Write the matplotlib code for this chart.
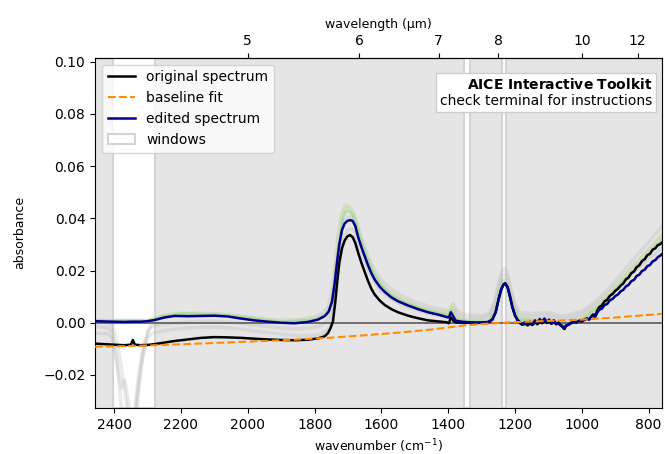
import numpy as np
import matplotlib
matplotlib.use("Agg")
import matplotlib.pyplot as plt

# spectra as (wavenumber cm-1, absorbance) pairs
original = [
    (2457, -0.0080), (2430, -0.0082), (2400, -0.0084), (2370, -0.0086), (2350, -0.0084),
    (2344, -0.0066), (2338, -0.0084), (2320, -0.0086), (2300, -0.0085), (2280, -0.0082),
    (2250, -0.0076), (2220, -0.0070), (2180, -0.0064), (2140, -0.0058), (2100, -0.0055),
    (2060, -0.0056), (2020, -0.0058), (1980, -0.0061), (1940, -0.0064), (1900, -0.0066),
    (1860, -0.0067), (1820, -0.0065), (1790, -0.0060), (1770, -0.0052), (1760, -0.0040),
    (1752, -0.0020), (1745, 0.0005), (1738, 0.0080), (1732, 0.0160), (1726, 0.0230),
    (1718, 0.0285), (1710, 0.0315), (1702, 0.0330), (1694, 0.0336), (1686, 0.0328),
    (1678, 0.0305), (1670, 0.0270), (1660, 0.0230), (1650, 0.0195), (1640, 0.0160),
    (1630, 0.0130), (1620, 0.0108), (1605, 0.0085), (1590, 0.0068), (1570, 0.0052),
    (1550, 0.0040), (1520, 0.0027), (1490, 0.0017), (1460, 0.0009), (1430, 0.0005),
    (1405, 0.0002), (1398, -0.0002), (1392, 0.0020), (1385, 0.0008), (1378, 0.0001),
    (1360, 0.0000), (1340, 0.0000), (1320, -0.0001), (1300, 0.0000), (1280, 0.0002),
    (1268, 0.0012), (1258, 0.0040), (1250, 0.0085), (1242, 0.0125), (1235, 0.0146),
    (1229, 0.0151), (1222, 0.0135), (1215, 0.0100), (1208, 0.0060), (1200, 0.0028),
    (1192, 0.0008), (1185, -0.0002), (1178, -0.0008), (1170, -0.0004), (1162, -0.0010),
    (1155, -0.0003), (1148, -0.0009), (1140, 0.0002), (1133, -0.0006), (1126, 0.0004),
    (1119, -0.0002), (1112, 0.0006), (1105, -0.0001), (1098, 0.0004), (1091, -0.0004),
    (1084, 0.0003), (1077, -0.0006), (1070, -0.0002), (1064, -0.0010), (1058, -0.0016),
    (1052, -0.0024), (1047, -0.0012), (1040, -0.0008), (1032, -0.0002), (1024, 0.0003),
    (1016, 0.0001), (1008, 0.0007), (1000, 0.0005), (992, 0.0011), (985, 0.0016),
    (978, 0.0013), (972, 0.0024), (966, 0.0032), (960, 0.0028), (954, 0.0046),
    (948, 0.0060), (940, 0.0066), (932, 0.0082), (924, 0.0088), (916, 0.0103),
    (908, 0.0110), (900, 0.0122), (892, 0.0130), (884, 0.0142), (876, 0.0150),
    (868, 0.0166), (860, 0.0173), (852, 0.0190), (844, 0.0196), (836, 0.0213),
    (828, 0.0220), (820, 0.0236), (812, 0.0243), (804, 0.0259), (796, 0.0264),
    (788, 0.0280), (780, 0.0285), (772, 0.0298), (766, 0.0300), (761, 0.0306),
]

edited = [
    (2457, 0.0006), (2430, 0.0005), (2400, 0.0004), (2370, 0.0003), (2350, 0.0004),
    (2320, 0.0004), (2300, 0.0006), (2280, 0.0010), (2250, 0.0020), (2220, 0.0026),
    (2180, 0.0025), (2140, 0.0026), (2100, 0.0027), (2060, 0.0024), (2020, 0.0016),
    (1980, 0.0009), (1940, 0.0004), (1900, 0.0000), (1860, -0.0002), (1820, 0.0003),
    (1790, 0.0012), (1770, 0.0025), (1758, 0.0042), (1748, 0.0080), (1740, 0.0150),
    (1733, 0.0230), (1726, 0.0300), (1718, 0.0355), (1710, 0.0380), (1702, 0.0390),
    (1694, 0.0393), (1686, 0.0390), (1678, 0.0370), (1670, 0.0330), (1660, 0.0290),
    (1650, 0.0255), (1640, 0.0220), (1630, 0.0190), (1620, 0.0165), (1605, 0.0138),
    (1590, 0.0118), (1570, 0.0097), (1550, 0.0082), (1520, 0.0066), (1490, 0.0052),
    (1460, 0.0040), (1430, 0.0031), (1405, 0.0022), (1398, 0.0020), (1392, 0.0040),
    (1385, 0.0025), (1378, 0.0008), (1360, 0.0004), (1340, 0.0002), (1320, 0.0001),
    (1300, 0.0001), (1280, 0.0003), (1268, 0.0012), (1258, 0.0040), (1250, 0.0085),
    (1242, 0.0125), (1235, 0.0146), (1229, 0.0150), (1222, 0.0135), (1215, 0.0100),
    (1208, 0.0060), (1200, 0.0028), (1192, 0.0010), (1185, 0.0002), (1178, -0.0004),
    (1170, 0.0002), (1162, -0.0006), (1155, 0.0004), (1148, -0.0005), (1140, 0.0009),
    (1133, -0.0002), (1126, 0.0014), (1119, 0.0003), (1112, 0.0016), (1105, 0.0002),
    (1098, 0.0012), (1091, -0.0003), (1084, 0.0010), (1077, -0.0004), (1070, 0.0001),
    (1064, -0.0008), (1058, -0.0013), (1052, -0.0022), (1047, -0.0010), (1040, -0.0006),
    (1032, 0.0000), (1024, 0.0004), (1016, 0.0002), (1008, 0.0008), (1000, 0.0006),
    (992, 0.0012), (985, 0.0016), (978, 0.0012), (972, 0.0022), (966, 0.0027),
    (960, 0.0022), (954, 0.0038), (948, 0.0050), (940, 0.0054), (932, 0.0068),
    (924, 0.0072), (916, 0.0086), (908, 0.0091), (900, 0.0102), (892, 0.0108),
    (884, 0.0120), (876, 0.0126), (868, 0.0139), (860, 0.0145), (852, 0.0159),
    (844, 0.0164), (836, 0.0179), (828, 0.0184), (820, 0.0198), (812, 0.0203),
    (804, 0.0217), (796, 0.0221), (788, 0.0235), (780, 0.0240), (772, 0.0252),
    (766, 0.0256), (761, 0.0262),
]

baseline = [
    (2457, -0.0092), (2350, -0.0089), (2250, -0.0085), (2150, -0.0080), (2050, -0.0075),
    (1950, -0.0070), (1850, -0.0064), (1750, -0.0057), (1650, -0.0048), (1550, -0.0038),
    (1450, -0.0026), (1350, -0.0010), (1300, -0.0005), (1250, -0.0001), (1200, 0.0002),
    (1100, 0.0007), (1000, 0.0012), (900, 0.0020), (800, 0.0030), (761, 0.0034),
]

# other edited versions shown faintly behind
alt_high = [
    (2457, 0.0010), (2420, 0.0008), (2405, -0.0010), (2390, -0.0080), (2375, -0.0200),
    (2362, -0.0320), (2352, -0.0420), (2344, -0.0480), (2336, -0.0400), (2325, -0.0240),
    (2312, -0.0110), (2298, -0.0030), (2283, 0.0005), (2250, 0.0025), (2200, 0.0035),
    (2150, 0.0036), (2100, 0.0035), (2050, 0.0030), (2000, 0.0022), (1950, 0.0014),
    (1900, 0.0010), (1850, 0.0012), (1800, 0.0022), (1775, 0.0036), (1760, 0.0060),
    (1750, 0.0110), (1740, 0.0210), (1730, 0.0330), (1720, 0.0410), (1710, 0.0440),
    (1700, 0.0445), (1690, 0.0435), (1680, 0.0410), (1670, 0.0370), (1655, 0.0310),
    (1640, 0.0255), (1620, 0.0200), (1600, 0.0163), (1570, 0.0128), (1540, 0.0103),
    (1500, 0.0080), (1460, 0.0064), (1420, 0.0052), (1395, 0.0046), (1385, 0.0075),
    (1375, 0.0050), (1360, 0.0035), (1340, 0.0030), (1300, 0.0028), (1275, 0.0040),
    (1260, 0.0090), (1248, 0.0160), (1238, 0.0200), (1230, 0.0208), (1222, 0.0185),
    (1212, 0.0130), (1200, 0.0070), (1188, 0.0040), (1150, 0.0035), (1100, 0.0040),
    (1060, 0.0025), (1040, 0.0030), (1000, 0.0045), (960, 0.0080), (920, 0.0130),
    (880, 0.0190), (840, 0.0250), (800, 0.0310), (780, 0.0340), (761, 0.0365),
]

alt_mid = [
    (2457, -0.0015), (2420, -0.0018), (2408, -0.0030), (2398, -0.0090), (2388, -0.0180),
    (2378, -0.0250), (2368, -0.0220), (2358, -0.0300), (2348, -0.0380), (2338, -0.0340),
    (2326, -0.0190), (2312, -0.0080), (2296, -0.0025), (2280, -0.0012), (2250, -0.0005),
    (2200, 0.0000), (2150, 0.0004), (2100, 0.0006), (2050, 0.0002), (2000, -0.0006),
    (1950, -0.0014), (1900, -0.0020), (1850, -0.0024), (1800, -0.0018), (1775, -0.0008),
    (1760, 0.0012), (1750, 0.0050), (1740, 0.0140), (1730, 0.0260), (1720, 0.0350),
    (1710, 0.0390), (1700, 0.0405), (1690, 0.0405), (1680, 0.0385), (1670, 0.0345),
    (1655, 0.0285), (1640, 0.0230), (1620, 0.0178), (1600, 0.0142), (1570, 0.0110),
    (1540, 0.0086), (1500, 0.0066), (1460, 0.0050), (1420, 0.0040), (1395, 0.0034),
    (1385, 0.0060), (1375, 0.0038), (1360, 0.0024), (1340, 0.0020), (1300, 0.0019),
    (1275, 0.0030), (1260, 0.0075), (1248, 0.0140), (1238, 0.0180), (1230, 0.0186),
    (1222, 0.0165), (1212, 0.0112), (1200, 0.0058), (1188, 0.0030), (1150, 0.0024),
    (1100, 0.0030), (1060, 0.0015), (1040, 0.0020), (1000, 0.0035), (960, 0.0068),
    (920, 0.0115), (880, 0.0170), (840, 0.0225), (800, 0.0280), (780, 0.0305), (761, 0.0330),
]

alt_low = [
    (2457, -0.0040), (2420, -0.0042), (2405, -0.0060), (2392, -0.0150), (2380, -0.0300),
    (2370, -0.0420), (2360, -0.0500), (2350, -0.0460), (2340, -0.0380), (2328, -0.0250),
    (2315, -0.0130), (2300, -0.0060), (2285, -0.0040), (2250, -0.0030), (2200, -0.0022),
    (2150, -0.0018), (2100, -0.0016), (2050, -0.0020), (2000, -0.0028), (1950, -0.0036),
    (1900, -0.0044), (1850, -0.0050), (1800, -0.0048), (1775, -0.0040), (1760, -0.0025),
    (1750, 0.0000), (1740, 0.0070), (1730, 0.0180), (1720, 0.0280), (1710, 0.0330),
    (1700, 0.0355), (1690, 0.0360), (1680, 0.0345), (1670, 0.0310), (1655, 0.0255),
    (1640, 0.0205), (1620, 0.0155), (1600, 0.0120), (1570, 0.0090), (1540, 0.0068),
    (1500, 0.0050), (1460, 0.0036), (1420, 0.0026), (1395, 0.0020), (1385, 0.0045),
    (1375, 0.0025), (1360, 0.0012), (1340, 0.0010), (1300, 0.0010), (1275, 0.0020),
    (1260, 0.0060), (1248, 0.0120), (1238, 0.0158), (1230, 0.0163), (1222, 0.0145),
    (1212, 0.0095), (1200, 0.0045), (1188, 0.0018), (1150, 0.0012), (1100, 0.0018),
    (1060, 0.0005), (1040, 0.0010), (1000, 0.0025), (960, 0.0055), (920, 0.0100),
    (880, 0.0150), (840, 0.0200), (800, 0.0245), (780, 0.0265), (761, 0.0285),
]

alt_green = [
    (2457, 0.0008), (2300, 0.0008), (2250, 0.0027), (2200, 0.0034), (2150, 0.0033),
    (2100, 0.0032), (2050, 0.0028), (2000, 0.0018), (1900, 0.0003), (1800, 0.0012),
    (1770, 0.0028), (1755, 0.0050), (1745, 0.0100), (1735, 0.0200), (1725, 0.0320),
    (1715, 0.0400), (1705, 0.0430), (1695, 0.0425), (1685, 0.0410), (1675, 0.0380),
    (1665, 0.0330), (1650, 0.0270), (1630, 0.0205), (1605, 0.0150), (1570, 0.0105),
    (1530, 0.0078), (1490, 0.0058), (1440, 0.0040), (1400, 0.0030), (1392, 0.0048),
    (1380, 0.0015), (1340, 0.0005), (1280, 0.0004), (1260, 0.0040), (1245, 0.0115),
    (1230, 0.0155), (1218, 0.0125), (1205, 0.0055), (1190, 0.0012), (1100, 0.0008),
    (1050, -0.0010), (1000, 0.0012), (950, 0.0060), (900, 0.0125), (850, 0.0195),
    (800, 0.0262), (761, 0.0315),
]

alt_pale = [
    (2457, 0.0010), (2300, 0.0010), (2250, 0.0030), (2200, 0.0038), (2100, 0.0036),
    (2000, 0.0020), (1900, 0.0006), (1800, 0.0016), (1770, 0.0032), (1755, 0.0060),
    (1745, 0.0120), (1735, 0.0240), (1725, 0.0360), (1715, 0.0430), (1708, 0.0455),
    (1700, 0.0445), (1690, 0.0430), (1680, 0.0405), (1670, 0.0365), (1655, 0.0300),
    (1635, 0.0225), (1610, 0.0165), (1575, 0.0115), (1535, 0.0085), (1490, 0.0062),
    (1440, 0.0044), (1400, 0.0034), (1390, 0.0070), (1378, 0.0020), (1340, 0.0008),
    (1280, 0.0006), (1260, 0.0045), (1245, 0.0125), (1232, 0.0165), (1220, 0.0135),
    (1205, 0.0060), (1190, 0.0015), (1100, 0.0010), (1050, -0.0006), (1000, 0.0016),
    (950, 0.0068), (900, 0.0135), (850, 0.0210), (800, 0.0282), (761, 0.0338),
]

# fitting windows (cm-1)
windows = [(2402, 2278), (1352, 1334), (1238, 1227)]

wl_ticks = [5, 6, 7, 8, 10, 12]


def xy(pairs):
    a = np.array(pairs)
    return a[:, 0], a[:, 1]


def wn_to_wl(x):
    x = np.asarray(x, dtype=float)
    with np.errstate(divide="ignore"):
        return 1e4 / x


fig, ax = plt.subplots(figsize=(6.65, 4.54), dpi=100)
fig.subplots_adjust(left=0.143, right=0.995, top=0.873, bottom=0.101)
ax.set_facecolor("#e5e5e5")

for i, (hi, lo) in enumerate(windows):
    ax.axvspan(lo, hi, facecolor="white", edgecolor="#d4d4d4", lw=1.5, zorder=0.5,
               label="windows" if i == 0 else None)

for s in (alt_high, alt_mid, alt_low):
    ax.plot(*xy(s), color="#b4b4b4", lw=2.5, alpha=0.28, zorder=1)
ax.plot(*xy(alt_pale), color="#c8e29a", lw=2, alpha=0.6, zorder=1.2)
ax.plot(*xy(alt_green), color="#8fd68f", lw=1.8, alpha=0.6, zorder=1.3)

ax.axhline(0, color="#5a5a5a", lw=1.2, zorder=1.5)

ax.plot(*xy(original), color="black", lw=1.8, label="original spectrum", zorder=3)
ax.plot(*xy(baseline), color="darkorange", lw=1.5, ls="--", label="baseline fit", zorder=5)
ax.plot(*xy(edited), color="darkblue", lw=1.8, label="edited spectrum", zorder=4)

ax.set_xlim(2457, 761)
ax.set_ylim(-0.0327, 0.1015)
ax.set_xticks([2400, 2200, 2000, 1800, 1600, 1400, 1200, 1000, 800])
ax.set_yticks([-0.02, 0.0, 0.02, 0.04, 0.06, 0.08, 0.10])
ax.set_xlabel("wavenumber (cm$^{-1}$)", fontsize=9)
ax.set_ylabel("absorbance", fontsize=9, labelpad=12)

secax = ax.secondary_xaxis("top", functions=(wn_to_wl, wn_to_wl))
secax.set_xticks(wl_ticks)
secax.set_xticklabels([str(t) for t in wl_ticks])
secax.set_xlabel("wavelength (µm)", fontsize=9)

h, l = ax.get_legend_handles_labels()
order = [l.index(n) for n in ["original spectrum", "baseline fit", "edited spectrum", "windows"]]
ax.legend([h[i] for i in order], [l[i] for i in order], loc="upper left", fontsize=10)

ax.text(0.983, 0.945, r"$\bf{AICE\ Interactive\ Toolkit}$" + "\ncheck terminal for instructions",
        transform=ax.transAxes, ha="right", va="top", multialignment="right", fontsize=10,
        bbox=dict(boxstyle="square,pad=0.3", fc="white", ec="#cccccc"), zorder=6)

fig.savefig("out.png", dpi=100)
